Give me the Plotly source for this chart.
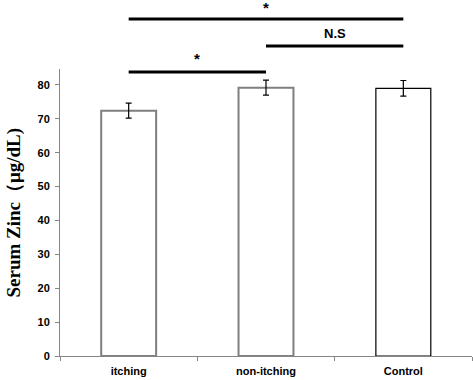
import plotly.graph_objects as go

categories = ["itching", "non-itching", "Control"]
means = [72.4, 79.2, 79.0]
errors = [2.2, 2.2, 2.3]
y_ticks = [0, 10, 20, 30, 40, 50, 60, 70, 80]
y_title = "Serum Zinc（μg/dL)"

fig = go.Figure()
fig.add_trace(go.Bar(
    x=categories, y=means, width=0.4,
    marker=dict(color="white",
                line=dict(color=["#7f7f7f", "#7f7f7f", "#000000"], width=[2, 2, 1.2])),
    error_y=dict(type="data", array=errors, color="black", thickness=1.2, width=3),
    showlegend=False,
))

# significance brackets (x in category index, y in paper coords)
sig_lines = [(0, 2, 1.1744), (1, 2, 1.0802), (0, 1, 0.9895)]
for x0, x1, yy in sig_lines:
    fig.add_shape(type="line", xref="x", yref="paper", x0=x0, x1=x1, y0=yy, y1=yy,
                  line=dict(color="black", width=3))

sig_labels = [(1.0, 1.215, "*", 15), (1.5, 1.125, "N.S", 13), (0.5, 1.035, "*", 15)]
for xx, yy, txt, sz in sig_labels:
    fig.add_annotation(x=xx, y=yy, xref="x", yref="paper", text="<b>%s</b>" % txt,
                       showarrow=False, yanchor="middle",
                       font=dict(family="Liberation Sans", size=sz, color="black"))

# y-axis title as rotated annotation
fig.add_annotation(x=-0.114, y=0.5, xref="paper", yref="paper", text="<b>%s</b>" % y_title,
                   showarrow=False, textangle=-90, xanchor="center", yanchor="middle",
                   font=dict(family="Liberation Serif", size=19, color="black"))

fig.update_layout(
    width=473, height=380,
    margin=dict(l=60, r=1, t=69, b=24),
    paper_bgcolor="white", plot_bgcolor="white",
    bargap=0.6,
    font=dict(family="Liberation Sans", color="black"),
)
fig.update_xaxes(
    range=[-0.5, 2.5], showline=True, linecolor="#868686", linewidth=1,
    ticks="outside", tickson="boundaries", ticklen=4, tickcolor="#868686",
    tickfont=dict(family="Liberation Sans", size=11, color="black"),
    tickvals=categories, ticktext=["<b>%s</b>" % c for c in categories],
    ticklabelstandoff=5,
    showgrid=False, zeroline=False, automargin=False,
)
fig.update_yaxes(
    range=[0, 84.7], showline=True, linecolor="#868686", linewidth=1,
    ticks="outside", ticklen=4, tickcolor="#868686",
    tickvals=y_ticks, ticktext=["<b>%d</b>" % v for v in y_ticks],
    tickfont=dict(family="Liberation Sans", size=11, color="black"),
    ticklabelstandoff=3,
    showgrid=False, zeroline=False, automargin=False,
)

fig.write_html("out.html", config={"displayModeBar": False},
               post_script="document.body.style.margin='0';")
